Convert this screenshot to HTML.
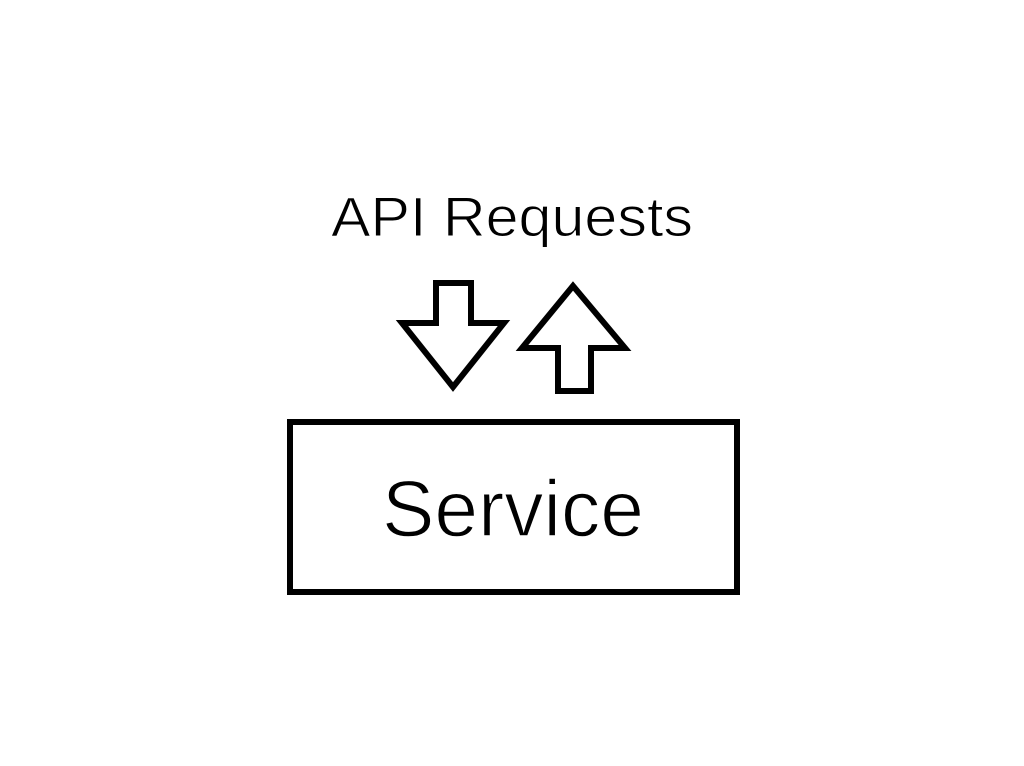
<!DOCTYPE html>
<html><head><meta charset="utf-8"><style>
html,body{margin:0;padding:0;background:#fff;width:1024px;height:766px;overflow:hidden}
svg{display:block}
text{font-family:"Liberation Sans",sans-serif;fill:#000;stroke:#fff}
</style></head><body>
<svg width="1024" height="766" viewBox="0 0 1024 766">
<text x="331" y="236" font-size="56" stroke-width="1" textLength="362" lengthAdjust="spacingAndGlyphs">API Requests</text>
<polygon points="436,283 471,283 471,323 504,323 453,387 402,323 436,323" fill="none" stroke="#000" stroke-width="6" stroke-linejoin="miter"/>
<polygon points="558,391 591,391 591,348 625,348 573,286 522,348 558,348" fill="none" stroke="#000" stroke-width="6" stroke-linejoin="miter"/>
<rect x="290" y="422" width="447" height="170" fill="none" stroke="#000" stroke-width="6"/>
<text x="382" y="536" font-size="80" stroke-width="1.4" textLength="262" lengthAdjust="spacingAndGlyphs">Service</text>
</svg>
</body></html>
